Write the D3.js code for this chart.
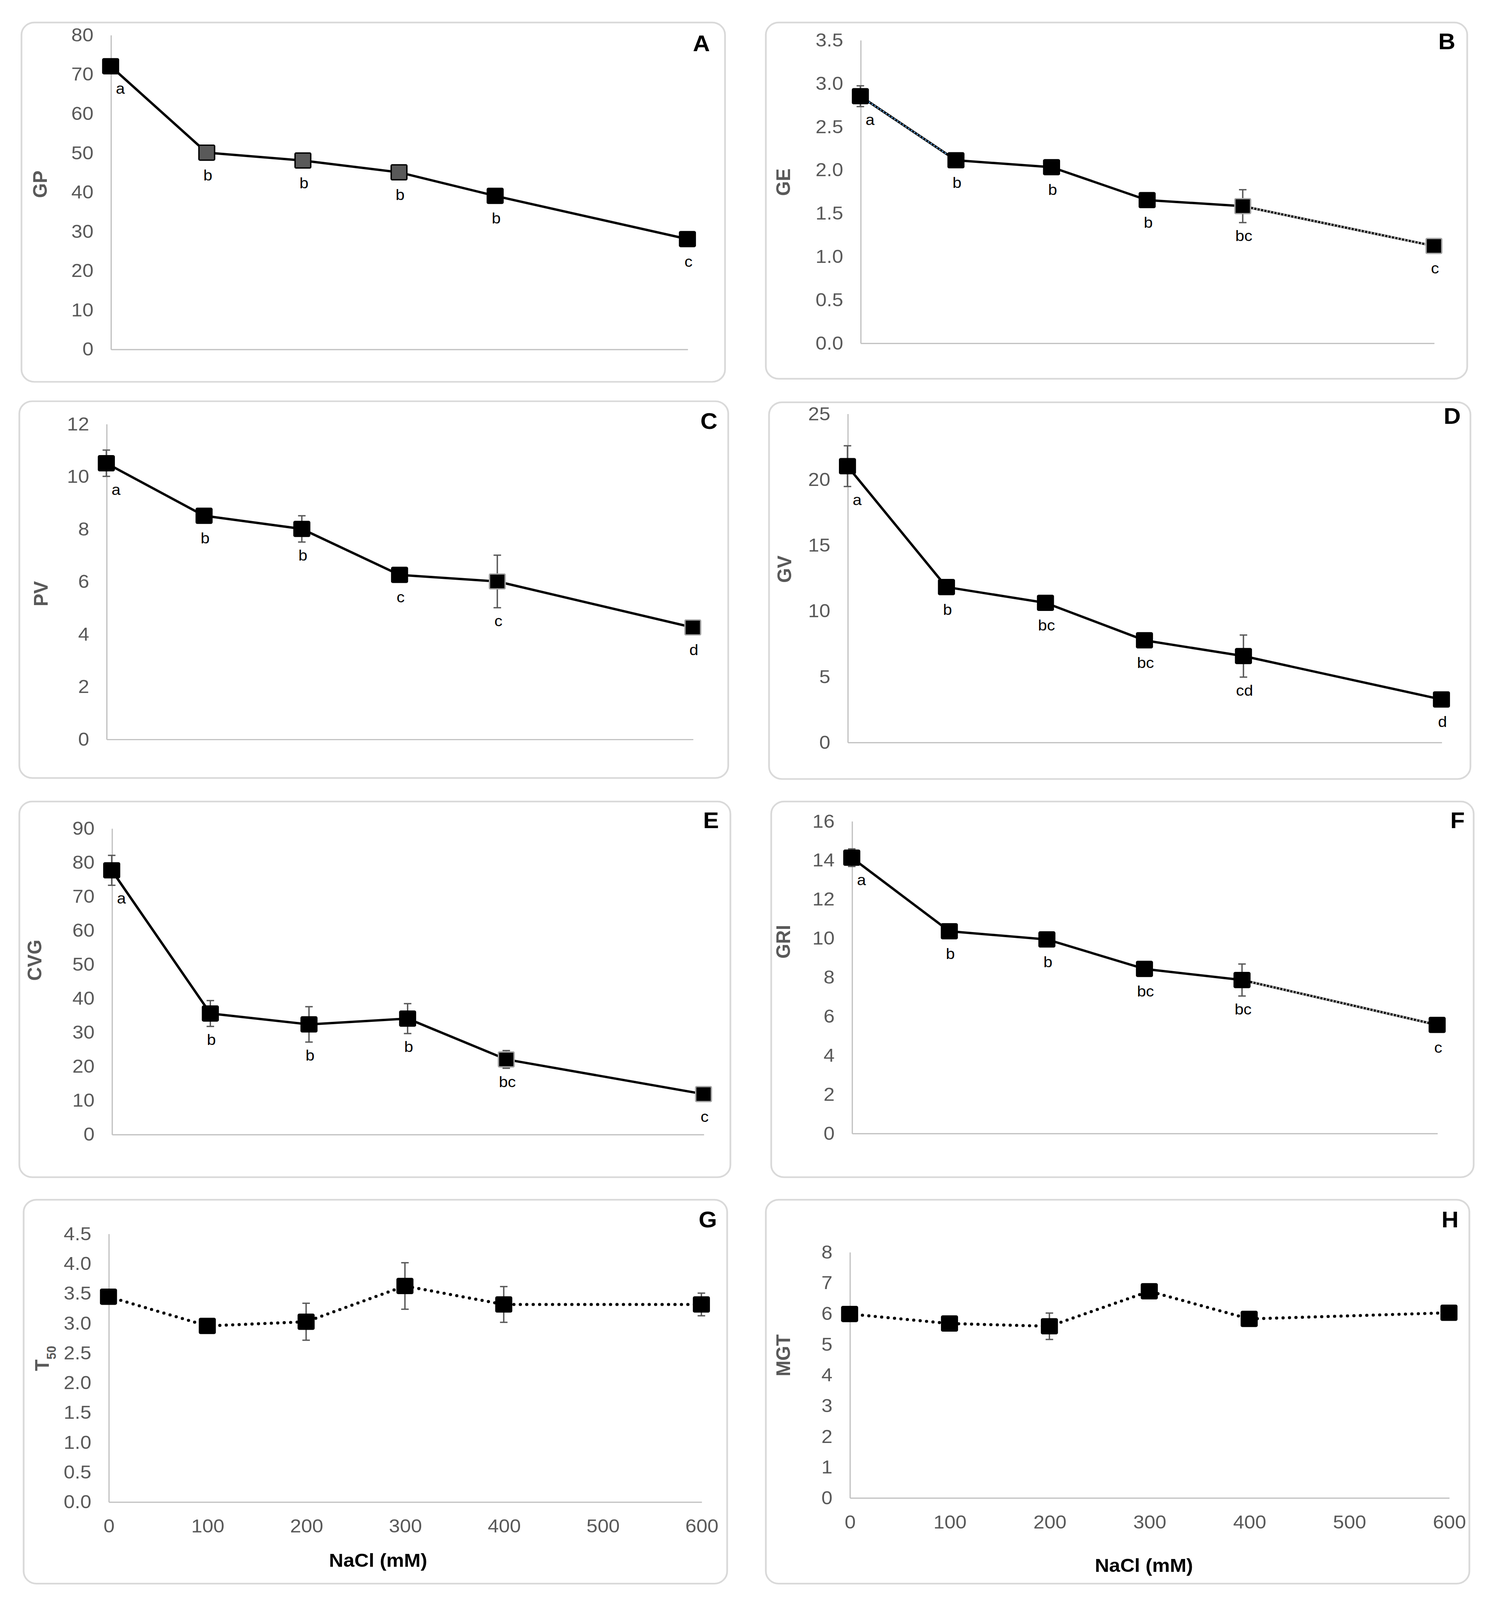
<!DOCTYPE html>
<html>
<head>
<meta charset="utf-8">
<script src="https://cdn.jsdelivr.net/npm/d3@7"></script>
<style>
  html, body { margin: 0; padding: 0; background: #fff; overflow: hidden; }
  svg { display: block; }
</style>
</head>
<body>
<div id="chart"></div>
<script>
// NaCl concentrations (mM) and x tick labels
const nacl = [0, 100, 200, 300, 400, 600];
const xTicks = [0, 100, 200, 300, 400, 500, 600];

// A: germination percentage
const gp = [72, 50, 48, 45, 39, 28];
const gpErr = [1.6, 1.3, 0, 0, 0, 0];
const gpLetters = ["a", "b", "b", "b", "b", "c"];

// B: germination energy
const ge = [2.85, 2.11, 2.03, 1.65, 1.58, 1.12];
const geErr = [0.12, 0, 0, 0, 0.19, 0];
const geLetters = ["a", "b", "b", "b", "bc", "c"];

// C: peak value
const pv = [10.5, 8.5, 8.0, 6.25, 6.0, 4.25];
const pvErr = [0.5, 0, 0.5, 0, 1.0, 0];
const pvLetters = ["a", "b", "b", "c", "c", "d"];

// D: germination value
const gv = [21.0, 11.8, 10.6, 7.75, 6.55, 3.25];
const gvErr = [1.55, 0, 0, 0, 1.6, 0];
const gvLetters = ["a", "b", "bc", "bc", "cd", "d"];

// E: coefficient of velocity of germination
const cvg = [77.6, 35.5, 32.3, 34.0, 22.0, 11.8];
const cvgErr = [4.4, 3.8, 5.2, 4.4, 2.6, 0];
const cvgLetters = ["a", "b", "b", "b", "bc", "c"];

// F: germination rate index
const gri = [14.12, 10.35, 9.93, 8.42, 7.85, 5.55];
const griErr = [0.45, 0, 0, 0, 0.82, 0];
const griLetters = ["a", "b", "b", "bc", "bc", "c"];

// G: T50
const t50 = [3.44, 2.95, 3.02, 3.62, 3.31, 3.31];
const t50Err = [0, 0, 0.31, 0.39, 0.3, 0.19];

// H: mean germination time
const mgt = [5.98, 5.67, 5.58, 6.72, 5.82, 6.02];
const mgtErr = [0, 0, 0.43, 0, 0, 0];

const panels = [
  { tag: "A", title: "GP", values: gp, errors: gpErr, letters: gpLetters, yMax: 80, yStep: 10, fmt: "d",
    fills: ["#000", "#595959", "#595959", "#595959", "#000", "#000"] },
  { tag: "B", title: "GE", values: ge, errors: geErr, letters: geLetters, yMax: 3.5, yStep: 0.5, fmt: ".1f",
    segs: ["blue", "solid", "solid", "solid", "gray"], greyEdge: [4, 5] },
  { tag: "C", title: "PV", values: pv, errors: pvErr, letters: pvLetters, yMax: 12, yStep: 2, fmt: "d",
    greyEdge: [4, 5] },
  { tag: "D", title: "GV", values: gv, errors: gvErr, letters: gvLetters, yMax: 25, yStep: 5, fmt: "d" },
  { tag: "E", title: "CVG", values: cvg, errors: cvgErr, letters: cvgLetters, yMax: 90, yStep: 10, fmt: "d",
    greyEdge: [4, 5] },
  { tag: "F", title: "GRI", values: gri, errors: griErr, letters: griLetters, yMax: 16, yStep: 2, fmt: "d",
    segs: ["solid", "solid", "solid", "solid", "gray"] },
  { tag: "G", title: "T50", values: t50, errors: t50Err, yMax: 4.5, yStep: 0.5, fmt: ".1f",
    dotted: true, showX: true },
  { tag: "H", title: "MGT", values: mgt, errors: mgtErr, yMax: 8, yStep: 1, fmt: "d",
    dotted: true, showX: true }
];

// panel geometry (in a 1390 x 1563 frame, scaled to the window)
const frames = {
  A: { box: [20, 22, 675, 373], x0: 103, x1: 640, yTop: 34, yBot: 341, t: [37, 180], k: [653, 42] },
  B: { box: [713, 22, 1366, 370], x0: 801, x1: 1335, yTop: 39, yBot: 335, t: [729, 178], k: [1347, 40] },
  C: { box: [18, 392, 678, 760], x0: 99, x1: 645, yTop: 414, yBot: 722, t: [38, 580], k: [660, 411] },
  D: { box: [716, 393, 1369, 761], x0: 789, x1: 1342, yTop: 404, yBot: 725, t: [730, 556], k: [1352, 406] },
  E: { box: [18, 783, 680, 1150], x0: 104, x1: 655, yTop: 809, yBot: 1108, t: [32, 938], k: [662, 801] },
  F: { box: [718, 783, 1372, 1150], x0: 793, x1: 1338, yTop: 802, yBot: 1107, t: [729, 920], k: [1357, 801] },
  G: { box: [22, 1172, 677, 1547], x0: 101, x1: 653, yTop: 1205, yBot: 1467, t: [39, 1327], k: [659, 1191], xt: [352, 1524] },
  H: { box: [713, 1172, 1368, 1547], x0: 791, x1: 1349, yTop: 1223, yBot: 1463, t: [729, 1324], k: [1350, 1191], xt: [1065, 1529] }
};

const FONT = "'Liberation Sans', Arial, sans-serif";

const W = window.innerWidth || 3821;
const H = window.innerHeight || 4296;

const svg = d3.select("#chart")
  .append("svg")
  .attr("width", W)
  .attr("height", H)
  .attr("viewBox", "0 0 1390 1563")
  .attr("preserveAspectRatio", "none");

panels.forEach(drawPanel);

function drawPanel(p) {
  const f = frames[p.tag];
  const g = svg.append("g");

  g.append("rect")
    .attr("x", f.box[0]).attr("y", f.box[1])
    .attr("width", f.box[2] - f.box[0]).attr("height", f.box[3] - f.box[1])
    .attr("rx", 12)
    .attr("fill", "#fff")
    .attr("stroke", "#d9d9d9")
    .attr("stroke-width", 1.6);

  const x = d3.scaleLinear().domain([0, 600]).range([f.x0, f.x1]);
  const y = d3.scaleLinear().domain([0, p.yMax]).range([f.yBot, f.yTop]);
  const yTicks = d3.range(0, p.yMax + p.yStep / 2, p.yStep);

  // x axis (line only, labels on bottom row)
  const xa = g.append("g")
    .attr("transform", `translate(0,${f.yBot})`)
    .call(d3.axisBottom(x).tickValues(p.showX ? xTicks : []).tickSize(0).tickSizeOuter(0).tickPadding(17));
  xa.select(".domain").attr("stroke", "#bfbfbf").attr("stroke-width", 1.1);
  xa.selectAll("text").attr("fill", "#595959").attr("font-size", 18.5).attr("font-family", FONT);

  // y axis
  const ya = g.append("g")
    .attr("transform", `translate(${f.x0},0)`)
    .call(d3.axisLeft(y).tickValues(yTicks).tickFormat(d3.format(p.fmt)).tickSize(0).tickSizeOuter(0).tickPadding(16));
  ya.select(".domain").attr("stroke", "#bfbfbf").attr("stroke-width", 1.1);
  ya.selectAll("text").attr("fill", "#595959").attr("font-size", 18.5).attr("font-family", FONT);

  // y title
  const yt = g.append("text")
    .attr("transform", `translate(${f.t[0]},${f.t[1]}) rotate(-90)`)
    .attr("text-anchor", "middle")
    .attr("dy", "0.35em")
    .attr("fill", "#595959")
    .attr("font-family", FONT)
    .attr("font-weight", "bold")
    .attr("font-size", 18.5);
  if (p.title === "T50") {
    yt.append("tspan").text("T");
    yt.append("tspan").attr("font-size", 12).attr("baseline-shift", "sub").text("50");
  } else {
    yt.text(p.title);
  }

  // panel letter
  g.append("text")
    .attr("x", f.k[0]).attr("y", f.k[1] + 8)
    .attr("text-anchor", "middle")
    .attr("font-family", FONT)
    .attr("font-weight", "bold")
    .attr("font-size", 22)
    .text(p.tag);

  // x title
  if (f.xt) {
    g.append("text")
      .attr("x", f.xt[0]).attr("y", f.xt[1])
      .attr("dy", "0.35em")
      .attr("text-anchor", "middle")
      .attr("font-family", FONT)
      .attr("font-weight", "bold")
      .attr("font-size", 18.5)
      .text("NaCl (mM)");
  }

  const pts = nacl.map((n, i) => [x(n), y(p.values[i])]);

  // connecting line
  const line = d3.line();
  if (p.dotted) {
    g.append("path")
      .attr("d", line(pts))
      .attr("fill", "none")
      .attr("stroke", "#000")
      .attr("stroke-width", 3)
      .attr("stroke-linecap", "round")
      .attr("stroke-dasharray", "0 6");
  } else {
    g.append("path")
      .attr("d", line(pts))
      .attr("fill", "none")
      .attr("stroke", "#000")
      .attr("stroke-width", 2.3)
      .attr("stroke-linejoin", "round");
    (p.segs || []).forEach((s, i) => {
      if (s === "solid") return;
      g.append("path")
        .attr("d", line([pts[i], pts[i + 1]]))
        .attr("fill", "none")
        .attr("stroke", s === "blue" ? "#5b9bd5" : "#a6a6a6")
        .attr("stroke-width", s === "blue" ? 1.2 : 2.2)
        .attr("stroke-dasharray", "1.6 1.6");
    });
  }

  // error bars
  const eb = g.append("g").attr("stroke", "#595959").attr("stroke-width", 1.3);
  p.errors.forEach((e, i) => {
    if (!e) return;
    const cx = x(nacl[i]);
    const yt0 = y(p.values[i] + e), yb0 = y(p.values[i] - e);
    eb.append("line").attr("x1", cx).attr("x2", cx).attr("y1", yt0).attr("y2", yb0);
    eb.append("line").attr("x1", cx - 3.5).attr("x2", cx + 3.5).attr("y1", yt0).attr("y2", yt0);
    eb.append("line").attr("x1", cx - 3.5).attr("x2", cx + 3.5).attr("y1", yb0).attr("y2", yb0);
  });

  // markers
  const ms = 14.6;
  g.append("g")
    .selectAll("rect")
    .data(pts)
    .join("rect")
    .attr("x", (d) => d[0] - ms / 2)
    .attr("y", (d) => d[1] - ms / 2)
    .attr("width", ms)
    .attr("height", ms)
    .attr("rx", 1)
    .attr("fill", (d, i) => (p.fills ? p.fills[i] : "#000"))
    .attr("stroke", (d, i) => (p.greyEdge && p.greyEdge.includes(i) ? "#a6a6a6" : "#000"))
    .attr("stroke-width", 1.3);

  // significance letters
  if (p.letters) {
    g.append("g")
      .selectAll("text")
      .data(p.letters)
      .join("text")
      .attr("x", (d, i) => x(nacl[i]) + (i === 0 ? 9 : 1))
      .attr("y", (d, i) => {
        const py = y(p.values[i]);
        const eb = y(p.values[i] - p.errors[i]);
        return Math.max(py + 27, eb + 18);
      })
      .attr("text-anchor", "middle")
      .attr("font-family", FONT)
      .attr("font-size", 15)
      .attr("fill", "#000")
      .text((d) => d);
  }
}
</script>
</body>
</html>
